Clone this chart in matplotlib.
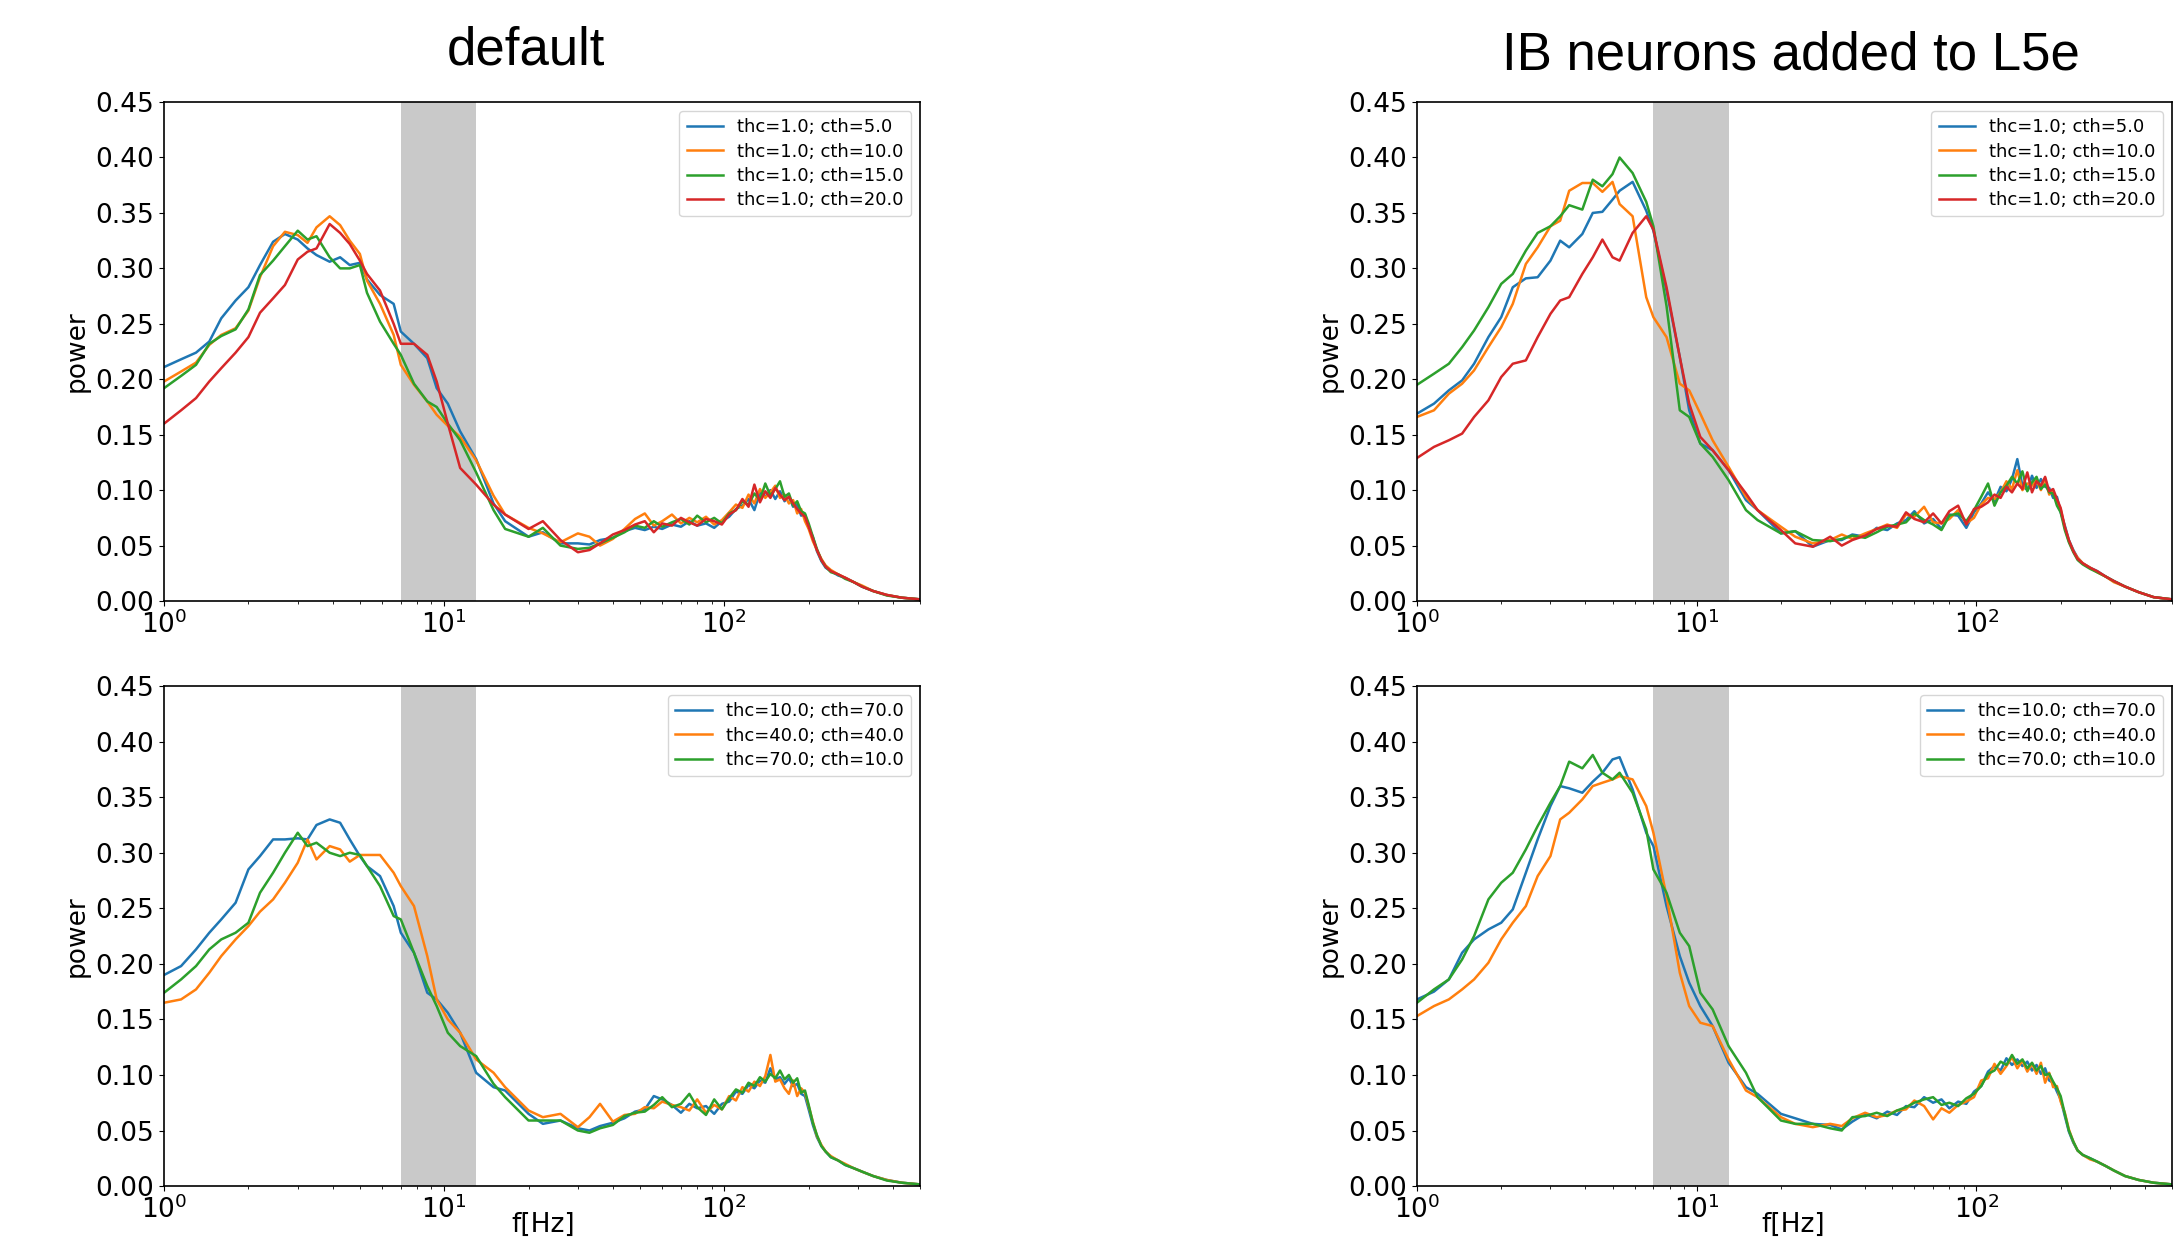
import numpy as np
import matplotlib
matplotlib.use('Agg')
import matplotlib.pyplot as plt
from matplotlib.ticker import FormatStrFormatter

# frequency grid [Hz] (values at these points)
freq = [1.0, 1.15, 1.3, 1.45, 1.6, 1.8, 2.0, 2.2, 2.45, 2.7, 3.0, 3.25, 3.5, 3.9, 4.25, 4.6, 5.0,
        5.3, 5.9, 6.6, 7.0, 7.8, 8.7, 9.4, 10.3, 11.4, 13.0, 15.0, 16.5, 20, 22.5, 26, 30,
        33, 36, 40, 44, 48, 52, 56, 60, 65, 70, 75, 80, 86, 92, 98, 104, 110, 116, 122, 128,
        134, 140, 146, 152, 158, 164, 170, 176, 182, 188, 194, 200, 207, 214, 222, 230, 240,
        255, 270, 290, 310, 340, 380, 430, 500]

# ---- default, top
def_cth5 = [0.211, 0.218, 0.224, 0.234, 0.255, 0.271, 0.283, 0.303, 0.324, 0.331, 0.326, 0.318, 0.312,
            0.306, 0.310, 0.303, 0.305, 0.290, 0.276, 0.268, 0.243, 0.232, 0.219, 0.192, 0.178, 0.153,
            0.128, 0.088, 0.072, 0.058, 0.062, 0.052, 0.052,
            0.051, 0.055, 0.057, 0.063, 0.066, 0.064, 0.067, 0.065, 0.069, 0.067, 0.072, 0.068, 0.070,
            0.066, 0.072, 0.076, 0.083, 0.086, 0.092, 0.082, 0.098, 0.094, 0.100, 0.092, 0.099, 0.090,
            0.094, 0.085, 0.087, 0.077, 0.078, 0.066, 0.058, 0.045, 0.036, 0.030, 0.027, 0.023, 0.021,
            0.017, 0.013, 0.009, 0.0055, 0.003, 0.0015]
def_cth10 = [0.198, 0.207, 0.215, 0.231, 0.240, 0.246, 0.262, 0.292, 0.320, 0.333, 0.330, 0.323, 0.337,
             0.347, 0.339, 0.325, 0.313, 0.289, 0.268, 0.240, 0.213, 0.195, 0.180, 0.168, 0.158, 0.148,
             0.127, 0.095, 0.078, 0.066, 0.061, 0.053, 0.061,
             0.058, 0.050, 0.056, 0.065, 0.074, 0.079, 0.068, 0.072, 0.078, 0.070, 0.075, 0.071, 0.076,
             0.069, 0.073, 0.080, 0.087, 0.084, 0.096, 0.088, 0.101, 0.093, 0.098, 0.104, 0.093, 0.096,
             0.088, 0.091, 0.079, 0.083, 0.072, 0.065, 0.054, 0.046, 0.038, 0.032, 0.028, 0.024, 0.021,
             0.017, 0.014, 0.009, 0.0055, 0.003, 0.0015]
def_cth15 = [0.192, 0.203, 0.213, 0.232, 0.239, 0.245, 0.263, 0.294, 0.307, 0.320, 0.334, 0.326, 0.329,
             0.310, 0.300, 0.300, 0.303, 0.278, 0.252, 0.232, 0.222, 0.196, 0.180, 0.175, 0.160, 0.145,
             0.116, 0.082, 0.065, 0.058, 0.066, 0.050, 0.047,
             0.048, 0.052, 0.057, 0.062, 0.068, 0.066, 0.072, 0.067, 0.071, 0.074, 0.069, 0.077, 0.071,
             0.075, 0.070, 0.079, 0.082, 0.090, 0.087, 0.097, 0.091, 0.106, 0.095, 0.101, 0.108, 0.094,
             0.097, 0.086, 0.090, 0.081, 0.079, 0.070, 0.058, 0.047, 0.037, 0.031, 0.026, 0.024, 0.020,
             0.017, 0.013, 0.009, 0.005, 0.003, 0.0015]
def_cth20 = [0.160, 0.172, 0.183, 0.198, 0.210, 0.224, 0.238, 0.260, 0.273, 0.285, 0.308, 0.315, 0.318,
             0.340, 0.332, 0.322, 0.307, 0.295, 0.280, 0.250, 0.232, 0.232, 0.222, 0.198, 0.160, 0.120,
             0.105, 0.087, 0.078, 0.065, 0.072, 0.055, 0.044,
             0.046, 0.052, 0.060, 0.064, 0.069, 0.072, 0.062, 0.070, 0.068, 0.075, 0.071, 0.068, 0.074,
             0.072, 0.069, 0.078, 0.082, 0.092, 0.085, 0.105, 0.089, 0.099, 0.093, 0.102, 0.096, 0.091,
             0.094, 0.088, 0.083, 0.079, 0.076, 0.067, 0.056, 0.046, 0.037, 0.031, 0.027, 0.024, 0.021,
             0.017, 0.013, 0.009, 0.0055, 0.003, 0.0015]

# ---- default, bottom
def_10_70 = [0.190, 0.198, 0.213, 0.228, 0.240, 0.255, 0.285, 0.297, 0.312, 0.312, 0.313, 0.312, 0.325,
             0.330, 0.327, 0.312, 0.297, 0.288, 0.279, 0.252, 0.228, 0.210, 0.174, 0.168, 0.156, 0.138,
             0.102, 0.089, 0.086, 0.065, 0.056, 0.059, 0.052,
             0.050, 0.054, 0.057, 0.061, 0.067, 0.069, 0.081, 0.078, 0.073, 0.066, 0.074, 0.070, 0.072,
             0.065, 0.074, 0.076, 0.085, 0.083, 0.091, 0.088, 0.095, 0.093, 0.106, 0.096, 0.098, 0.092,
             0.097, 0.090, 0.092, 0.083, 0.081, 0.069, 0.055, 0.044, 0.036, 0.031, 0.026, 0.023, 0.019,
             0.016, 0.013, 0.009, 0.0055, 0.003, 0.0015]
def_40_40 = [0.165, 0.168, 0.177, 0.192, 0.207, 0.222, 0.234, 0.247, 0.258, 0.273, 0.291, 0.312, 0.294,
             0.306, 0.303, 0.292, 0.298, 0.298, 0.298, 0.282, 0.270, 0.252, 0.207, 0.168, 0.150, 0.138,
             0.114, 0.102, 0.089, 0.068, 0.062, 0.065, 0.053,
             0.062, 0.074, 0.058, 0.064, 0.065, 0.071, 0.070, 0.076, 0.073, 0.071, 0.068, 0.078, 0.066,
             0.073, 0.069, 0.081, 0.077, 0.089, 0.085, 0.094, 0.090, 0.099, 0.118, 0.094, 0.096, 0.088,
             0.083, 0.095, 0.081, 0.088, 0.084, 0.072, 0.058, 0.045, 0.037, 0.031, 0.027, 0.023, 0.020,
             0.016, 0.013, 0.009, 0.0055, 0.003, 0.0015]
def_70_10 = [0.174, 0.186, 0.198, 0.213, 0.222, 0.228, 0.237, 0.264, 0.282, 0.300, 0.318, 0.306, 0.309,
             0.300, 0.297, 0.300, 0.298, 0.288, 0.270, 0.243, 0.240, 0.210, 0.180, 0.162, 0.138, 0.126,
             0.117, 0.092, 0.080, 0.059, 0.059, 0.059, 0.050,
             0.048, 0.052, 0.055, 0.063, 0.066, 0.067, 0.073, 0.080, 0.071, 0.074, 0.083, 0.071, 0.064,
             0.078, 0.069, 0.079, 0.087, 0.084, 0.093, 0.090, 0.098, 0.094, 0.101, 0.097, 0.104, 0.096,
             0.100, 0.093, 0.097, 0.084, 0.086, 0.073, 0.057, 0.046, 0.036, 0.031, 0.026, 0.023, 0.019,
             0.016, 0.013, 0.009, 0.005, 0.003, 0.0015]

# ---- IB neurons added to L5e, top
ib_cth5 = [0.169, 0.178, 0.190, 0.199, 0.214, 0.238, 0.256, 0.283, 0.291, 0.292, 0.307, 0.325, 0.319,
           0.331, 0.350, 0.351, 0.362, 0.370, 0.378, 0.352, 0.334, 0.280, 0.220, 0.172, 0.142, 0.136,
           0.118, 0.091, 0.082, 0.061, 0.063, 0.049, 0.055,
           0.055, 0.060, 0.058, 0.066, 0.064, 0.070, 0.073, 0.081, 0.070, 0.074, 0.065, 0.078, 0.077,
           0.066, 0.080, 0.088, 0.098, 0.090, 0.103, 0.099, 0.110, 0.128, 0.104, 0.100, 0.113, 0.102,
           0.110, 0.103, 0.102, 0.093, 0.094, 0.080, 0.068, 0.055, 0.046, 0.039, 0.034, 0.030, 0.027,
           0.022, 0.018, 0.013, 0.008, 0.0035, 0.0015]
ib_cth10 = [0.166, 0.172, 0.187, 0.196, 0.208, 0.229, 0.247, 0.268, 0.304, 0.319, 0.338, 0.343, 0.370,
            0.377, 0.377, 0.369, 0.378, 0.358, 0.347, 0.274, 0.256, 0.238, 0.196, 0.190, 0.169, 0.145,
            0.121, 0.094, 0.082, 0.067, 0.058, 0.052, 0.055,
            0.060, 0.056, 0.061, 0.065, 0.069, 0.066, 0.078, 0.076, 0.085, 0.071, 0.070, 0.074, 0.082,
            0.070, 0.075, 0.087, 0.093, 0.092, 0.098, 0.108, 0.101, 0.118, 0.100, 0.106, 0.104, 0.109,
            0.100, 0.111, 0.096, 0.099, 0.088, 0.083, 0.066, 0.054, 0.045, 0.039, 0.034, 0.030, 0.026,
            0.022, 0.017, 0.013, 0.008, 0.0035, 0.0015]
ib_cth15 = [0.195, 0.205, 0.214, 0.229, 0.244, 0.265, 0.286, 0.295, 0.316, 0.332, 0.338, 0.347, 0.357,
            0.353, 0.380, 0.374, 0.385, 0.400, 0.386, 0.360, 0.338, 0.266, 0.172, 0.166, 0.142, 0.130,
            0.109, 0.082, 0.073, 0.061, 0.063, 0.055, 0.054,
            0.056, 0.059, 0.057, 0.062, 0.067, 0.069, 0.071, 0.079, 0.073, 0.069, 0.064, 0.077, 0.079,
            0.072, 0.082, 0.094, 0.106, 0.086, 0.098, 0.104, 0.112, 0.106, 0.117, 0.099, 0.107, 0.112,
            0.101, 0.105, 0.098, 0.097, 0.086, 0.080, 0.064, 0.053, 0.044, 0.037, 0.033, 0.029, 0.026,
            0.022, 0.018, 0.013, 0.008, 0.0035, 0.0015]
ib_cth20 = [0.129, 0.139, 0.145, 0.151, 0.166, 0.181, 0.202, 0.214, 0.217, 0.238, 0.259, 0.271, 0.274,
            0.295, 0.310, 0.326, 0.310, 0.307, 0.332, 0.347, 0.335, 0.283, 0.220, 0.178, 0.148, 0.136,
            0.118, 0.097, 0.082, 0.064, 0.052, 0.049, 0.058,
            0.050, 0.055, 0.059, 0.065, 0.068, 0.067, 0.080, 0.074, 0.071, 0.079, 0.070, 0.081, 0.086,
            0.069, 0.083, 0.085, 0.089, 0.096, 0.093, 0.103, 0.098, 0.106, 0.101, 0.116, 0.098, 0.108,
            0.104, 0.112, 0.099, 0.101, 0.092, 0.084, 0.067, 0.055, 0.045, 0.038, 0.034, 0.030, 0.027,
            0.022, 0.018, 0.013, 0.008, 0.0035, 0.0015]

# ---- IB neurons added to L5e, bottom
ib_10_70 = [0.168, 0.175, 0.186, 0.210, 0.222, 0.231, 0.237, 0.249, 0.282, 0.312, 0.342, 0.360, 0.358,
            0.354, 0.364, 0.372, 0.384, 0.386, 0.357, 0.318, 0.306, 0.252, 0.207, 0.183, 0.162, 0.144,
            0.111, 0.089, 0.083, 0.065, 0.061, 0.056, 0.055,
            0.051, 0.058, 0.065, 0.061, 0.067, 0.064, 0.072, 0.071, 0.080, 0.075, 0.078, 0.070, 0.076,
            0.074, 0.085, 0.090, 0.103, 0.108, 0.104, 0.115, 0.109, 0.114, 0.108, 0.112, 0.104, 0.109,
            0.101, 0.106, 0.095, 0.093, 0.085, 0.078, 0.063, 0.049, 0.039, 0.032, 0.028, 0.025, 0.022,
            0.018, 0.014, 0.009, 0.0055, 0.003, 0.0015]
ib_40_40 = [0.153, 0.162, 0.168, 0.177, 0.186, 0.201, 0.222, 0.237, 0.252, 0.279, 0.297, 0.330, 0.336,
            0.348, 0.360, 0.363, 0.366, 0.369, 0.366, 0.342, 0.318, 0.261, 0.192, 0.162, 0.147, 0.144,
            0.114, 0.086, 0.080, 0.062, 0.056, 0.053, 0.056,
            0.054, 0.061, 0.066, 0.062, 0.064, 0.068, 0.069, 0.077, 0.072, 0.060, 0.070, 0.066, 0.073,
            0.076, 0.080, 0.095, 0.097, 0.110, 0.101, 0.108, 0.116, 0.106, 0.113, 0.103, 0.110, 0.101,
            0.111, 0.093, 0.102, 0.089, 0.090, 0.076, 0.066, 0.051, 0.040, 0.032, 0.028, 0.024, 0.022,
            0.018, 0.014, 0.009, 0.0055, 0.003, 0.0015]
ib_70_10 = [0.165, 0.177, 0.186, 0.204, 0.225, 0.258, 0.273, 0.282, 0.303, 0.324, 0.345, 0.360, 0.382,
            0.376, 0.388, 0.372, 0.366, 0.372, 0.354, 0.321, 0.285, 0.264, 0.228, 0.216, 0.174, 0.159,
            0.126, 0.102, 0.080, 0.059, 0.056, 0.056, 0.052,
            0.050, 0.062, 0.063, 0.066, 0.063, 0.068, 0.071, 0.075, 0.078, 0.080, 0.073, 0.075, 0.072,
            0.079, 0.083, 0.090, 0.101, 0.104, 0.112, 0.109, 0.118, 0.110, 0.114, 0.106, 0.111, 0.104,
            0.108, 0.100, 0.101, 0.094, 0.088, 0.081, 0.065, 0.050, 0.040, 0.032, 0.028, 0.025, 0.022,
            0.018, 0.014, 0.009, 0.0055, 0.003, 0.0015]

labels_top = ['thc=1.0; cth=5.0', 'thc=1.0; cth=10.0', 'thc=1.0; cth=15.0', 'thc=1.0; cth=20.0']
labels_bottom = ['thc=10.0; cth=70.0', 'thc=40.0; cth=40.0', 'thc=70.0; cth=10.0']
titles = ['default', 'IB neurons added to L5e']
yticks = [0.0, 0.05, 0.10, 0.15, 0.20, 0.25, 0.30, 0.35, 0.40, 0.45]
band_lo, band_hi = 7, 13

panels = [
    ([0.0752, 0.5153, 0.3465, 0.4024], [def_cth5, def_cth10, def_cth15, def_cth20], labels_top),
    ([0.0752, 0.0435, 0.3465, 0.4032], [def_10_70, def_40_40, def_70_10], labels_bottom),
    ([0.6494, 0.5153, 0.3460, 0.4024], [ib_cth5, ib_cth10, ib_cth15, ib_cth20], labels_top),
    ([0.6494, 0.0435, 0.3460, 0.4032], [ib_10_70, ib_40_40, ib_70_10], labels_bottom),
]

fig = plt.figure(figsize=(21.82, 12.40), dpi=100)

for rect, series, labels in panels:
    ax = fig.add_axes(rect)
    ax.axvspan(band_lo, band_hi, color='#c9c9c9', lw=0)
    for i, (vals, lab) in enumerate(zip(series, labels)):
        ax.plot(freq, vals, color='C%d' % i, lw=1.8, label=lab)
    ax.set_xscale('log')
    ax.set_xlim(1, 500)
    ax.set_ylim(0, 0.45)
    ax.set_yticks(yticks)
    ax.yaxis.set_major_formatter(FormatStrFormatter('%.2f'))
    ax.tick_params(labelsize=19)
    for sp in ax.spines.values():
        sp.set_linewidth(1.2)
    ax.legend(loc='upper right', fontsize=13, labelspacing=0.35)
    # y label
    fig.text(rect[0] - 0.0400, rect[1] + rect[3] / 2, 'power', rotation=90,
             ha='center', va='center', fontsize=19)

# titles
fig.text(0.241, 0.959, titles[0], ha='center', va='center', fontsize=38, family='Liberation Sans')
fig.text(0.821, 0.955, titles[1], ha='center', va='center', fontsize=38, family='Liberation Sans')

# x labels along the bottom edge
fig.text(0.249, 0.002, 'f[Hz]', ha='center', va='bottom', fontsize=19)
fig.text(0.822, 0.002, 'f[Hz]', ha='center', va='bottom', fontsize=19)

fig.savefig('out.png', dpi=100)
